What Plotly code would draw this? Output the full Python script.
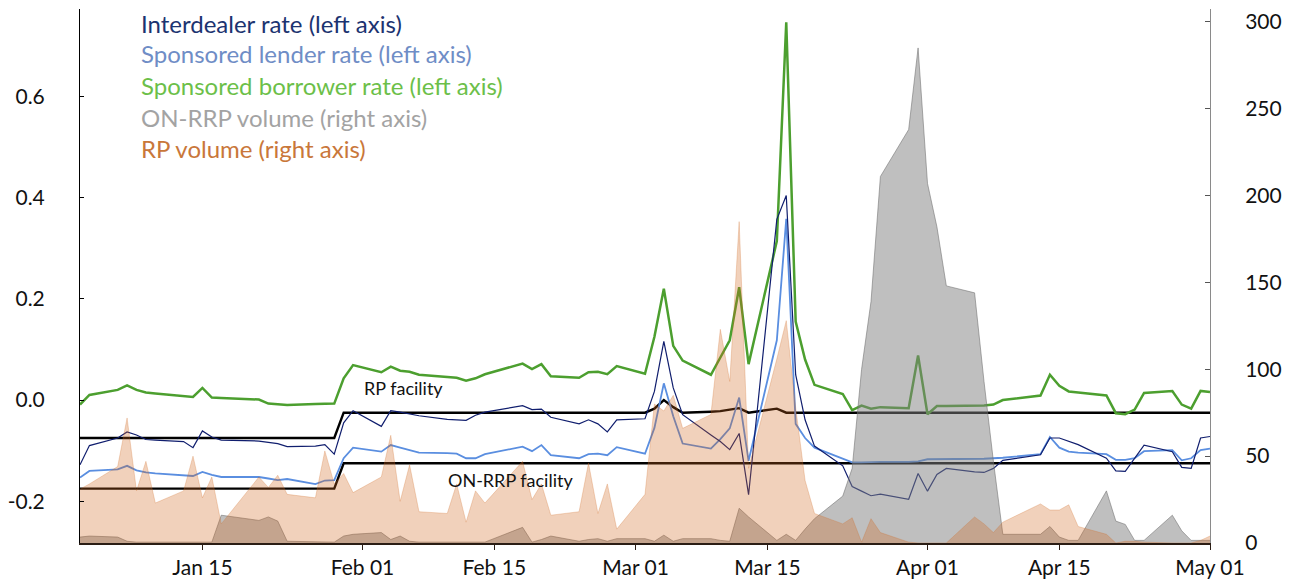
import plotly.graph_objects as go

dates = [
    "2020-01-02","2020-01-03","2020-01-06","2020-01-07","2020-01-08","2020-01-09","2020-01-10",
    "2020-01-13","2020-01-14","2020-01-15","2020-01-16","2020-01-17","2020-01-21","2020-01-22",
    "2020-01-23","2020-01-24","2020-01-27","2020-01-28","2020-01-29","2020-01-30","2020-01-31",
    "2020-02-03","2020-02-04","2020-02-05","2020-02-06","2020-02-07","2020-02-10","2020-02-11",
    "2020-02-12","2020-02-13","2020-02-14","2020-02-18","2020-02-19","2020-02-20","2020-02-21",
    "2020-02-24","2020-02-25","2020-02-26","2020-02-27","2020-02-28",
    "2020-03-02","2020-03-03","2020-03-04","2020-03-05","2020-03-06","2020-03-09","2020-03-10",
    "2020-03-11","2020-03-12","2020-03-13","2020-03-16","2020-03-17","2020-03-18","2020-03-19",
    "2020-03-20","2020-03-23","2020-03-24","2020-03-25","2020-03-26","2020-03-27","2020-03-30",
    "2020-03-31",
    "2020-04-01","2020-04-02","2020-04-03","2020-04-06","2020-04-07","2020-04-08","2020-04-09",
    "2020-04-13","2020-04-14","2020-04-15","2020-04-16","2020-04-17","2020-04-20","2020-04-21",
    "2020-04-22","2020-04-23","2020-04-24","2020-04-27","2020-04-28","2020-04-29","2020-04-30",
    "2020-05-01",
]

interdealer = [
    -0.128,-0.090,-0.075,-0.063,-0.069,-0.078,-0.079,-0.082,-0.094,-0.061,-0.073,-0.079,-0.081,-0.083,
    -0.086,-0.092,-0.091,-0.088,-0.107,-0.045,-0.021,
    -0.052,-0.021,-0.024,-0.027,-0.031,-0.038,-0.039,-0.040,-0.030,-0.024,-0.011,-0.019,-0.018,-0.034,
    -0.047,-0.039,-0.047,-0.063,-0.039,
    -0.037,0.017,0.116,0.024,-0.029,-0.069,-0.082,-0.098,-0.066,-0.187,0.357,0.404,0.050,-0.039,
    -0.091,-0.130,-0.171,-0.180,-0.189,-0.186,-0.196,-0.145,
    -0.180,-0.147,-0.135,-0.142,-0.143,-0.135,-0.119,-0.108,-0.075,-0.075,-0.082,-0.088,-0.115,-0.140,
    -0.141,-0.114,-0.089,-0.102,-0.133,-0.135,-0.075,
    -0.072,
]

sponsored_lender = [
    -0.153,-0.140,-0.137,-0.130,-0.139,-0.143,-0.145,-0.148,-0.150,-0.142,-0.148,-0.152,-0.152,-0.155,
    -0.158,-0.156,-0.166,-0.159,-0.158,-0.115,-0.094,
    -0.102,-0.089,-0.094,-0.099,-0.104,-0.105,-0.106,-0.115,-0.115,-0.107,-0.092,-0.101,-0.089,-0.109,
    -0.115,-0.107,-0.106,-0.109,-0.093,
    -0.106,-0.055,0.033,-0.032,-0.086,-0.096,-0.077,-0.056,0.005,-0.120,0.118,0.358,-0.047,-0.075,
    -0.094,-0.115,-0.123,-0.123,-0.122,-0.122,-0.122,-0.121,
    -0.117,-0.117,-0.117,-0.116,-0.116,-0.115,-0.114,-0.107,-0.073,-0.094,-0.102,-0.104,-0.107,-0.118,
    -0.118,-0.115,-0.101,-0.099,-0.119,-0.115,-0.099,
    -0.096,
]

sponsored_borrower = [
    -0.009,0.010,0.020,0.029,0.020,0.015,0.013,0.008,0.006,0.024,0.005,0.004,0.001,-0.007,
    -0.009,-0.010,-0.008,-0.008,-0.007,0.043,0.069,
    0.055,0.066,0.058,0.056,0.050,0.046,0.044,0.038,0.043,0.051,0.072,0.061,0.071,0.047,
    0.044,0.055,0.056,0.051,0.067,
    0.052,0.125,0.220,0.107,0.078,0.050,0.084,0.118,0.223,0.071,0.314,0.746,0.155,0.080,
    0.030,0.012,-0.020,-0.011,-0.017,-0.014,-0.016,0.088,
    -0.028,-0.012,-0.012,-0.012,-0.011,-0.009,0.000,0.009,0.050,0.028,0.017,0.015,0.009,-0.026,
    -0.028,-0.019,0.014,0.018,-0.009,-0.017,0.018,
    0.016,
]

rp_facility = [
    -0.075,-0.075,-0.075,-0.075,-0.075,-0.075,-0.075,-0.075,-0.075,-0.075,-0.075,-0.075,-0.075,-0.075,
    -0.075,-0.075,-0.075,-0.075,-0.075,-0.025,-0.025,
    -0.025,-0.025,-0.025,-0.025,-0.025,-0.025,-0.025,-0.025,-0.025,-0.025,-0.025,-0.025,-0.025,-0.025,
    -0.025,-0.025,-0.025,-0.025,-0.025,
    -0.025,-0.017,0.000,-0.014,-0.025,-0.023,-0.022,-0.019,-0.016,-0.025,-0.017,-0.025,-0.025,-0.025,
    -0.025,-0.025,-0.025,-0.025,-0.025,-0.025,-0.025,-0.025,
    -0.025,-0.025,-0.025,-0.025,-0.025,-0.025,-0.025,-0.025,-0.025,-0.025,-0.025,-0.025,-0.025,-0.025,
    -0.025,-0.025,-0.025,-0.025,-0.025,-0.025,-0.025,
    -0.025,
]

onrrp_facility = [
    -0.175,-0.175,-0.175,-0.175,-0.175,-0.175,-0.175,-0.175,-0.175,-0.175,-0.175,-0.175,-0.175,-0.175,
    -0.175,-0.175,-0.175,-0.175,-0.175,-0.125,-0.125,
    -0.125,-0.125,-0.125,-0.125,-0.125,-0.125,-0.125,-0.125,-0.125,-0.125,-0.125,-0.125,-0.125,-0.125,
    -0.125,-0.125,-0.125,-0.125,-0.125,
    -0.125,-0.125,-0.125,-0.125,-0.125,-0.125,-0.125,-0.125,-0.125,-0.125,-0.125,-0.125,-0.125,-0.125,
    -0.125,-0.125,-0.125,-0.125,-0.125,-0.125,-0.125,-0.125,
    -0.125,-0.125,-0.125,-0.125,-0.125,-0.125,-0.125,-0.125,-0.125,-0.125,-0.125,-0.125,-0.125,-0.125,
    -0.125,-0.125,-0.125,-0.125,-0.125,-0.125,-0.125,
    -0.125,
]

onrrp_volume = [
    3.4,4,3.4,1,0.5,0.5,0.5,0.5,0.5,0.5,0.5,16,13,15,
    12.6,1,0.5,0.5,0.5,4,5,
    6,2,4,1,0.5,0.5,0.5,0.5,0.5,0.5,9,0.5,2,4,
    1,2,2.5,1,2.5,
    2.5,1,4.5,1,2.5,2.5,1.5,1,20,15,1.5,5,1.5,8,
    14,27,43,100,139,211,238,285,
    207,182,148,144,93,47,5,5,9.5,3.4,1.5,1.5,30,12.6,
    10.7,1.5,1.5,16,7,1.5,1.5,
    1.5,
]

rp_volume = [
    31,34,44,72,30,47,23,30,50,26,38,11,38,32,
    39,28,26,53,34,40,29,
    38,62,24,45,18,17,34,12,30,23,47,25,34,16,
    18,46,17,34,8,
    28,80,76,85,66,74,123,93,185,43,106,128,78,36,
    17,11,14.5,0.5,14,6,0.5,0,
    0,0,0,15,11,6,12,22.5,19,19,22,9.5,5,0,
    1,1,0.5,0,0,0,1.5,
    4,
]

x_tickvals = ["2020-01-15","2020-02-01","2020-02-15","2020-03-01","2020-03-15","2020-04-01","2020-04-15","2020-05-01"]
x_ticktext = ["Jan 15","Feb 01","Feb 15","Mar 01","Mar 15","Apr 01","Apr 15","May 01"]
left_tickvals = [-0.2, 0.0, 0.2, 0.4, 0.6]
left_ticktext = ["-0.2", "0.0", "0.2", "0.4", "0.6"]
right_tickvals = [0, 50, 100, 150, 200, 250, 300]

legend_items = [
    ("Interdealer rate (left axis)", "#1c3370"),
    ("Sponsored lender rate (left axis)", "#6f8dc6"),
    ("Sponsored borrower rate (left axis)", "#6cbf49"),
    ("ON-RRP volume (right axis)", "#a3a3a3"),
    ("RP volume (right axis)", "#c9773a"),
]

FONT = "Lato, 'Open Sans', sans-serif"
OFF = 8  # page body margin offset in the browser
W, H = 1292 - OFF, 579 - OFF
ML, MR, MT, MB = 79 - OFF, 82, 0, 33
PW, PH = W - ML - MR, H - MT - MB


def px(xp):
    return (xp - OFF - ML) / PW


def py(yp):
    return (H - MB - (yp - OFF)) / PH


fig = go.Figure()

# rate lines (left axis)
fig.add_trace(go.Scatter(x=dates, y=rp_facility, mode="lines", line=dict(color="#000000", width=2.4),
                         yaxis="y", showlegend=False, hoverinfo="skip"))
fig.add_trace(go.Scatter(x=dates, y=onrrp_facility, mode="lines", line=dict(color="#000000", width=2.4),
                         yaxis="y", showlegend=False, hoverinfo="skip"))
fig.add_trace(go.Scatter(x=dates, y=sponsored_borrower, mode="lines", line=dict(color="#4c9f2f", width=2.5),
                         yaxis="y", showlegend=False))
fig.add_trace(go.Scatter(x=dates, y=sponsored_lender, mode="lines", line=dict(color="#5a8ee0", width=1.8),
                         yaxis="y", showlegend=False))
fig.add_trace(go.Scatter(x=dates, y=interdealer, mode="lines", line=dict(color="#101e6e", width=1.2),
                         yaxis="y", showlegend=False))

# volume areas (right axis), drawn on top
fig.add_trace(go.Scatter(x=dates, y=onrrp_volume, mode="lines", fill="tozeroy",
                         fillcolor="rgba(128,128,128,0.5)", line=dict(color="rgba(110,110,110,0.55)", width=1),
                         yaxis="y2", showlegend=False))
fig.add_trace(go.Scatter(x=dates, y=rp_volume, mode="lines", fill="tozeroy",
                         fillcolor="rgba(207,103,31,0.3)", line=dict(color="rgba(207,103,31,0.25)", width=1),
                         yaxis="y2", showlegend=False))

annotations = []
leg_y = [23, 53, 85, 117, 149]
for (txt, col), yy in zip(legend_items, leg_y):
    annotations.append(dict(text=txt, xref="paper", yref="paper", x=px(138), y=py(yy),
                            xanchor="left", yanchor="middle", showarrow=False,
                            font=dict(family=FONT, size=24, color=col)))
annotations.append(dict(text="RP facility", x="2020-02-05 08:00", y=0.024, xref="x", yref="y",
                        showarrow=False, font=dict(family=FONT, size=18, color="#111111")))
annotations.append(dict(text="ON-RRP facility", x="2020-02-16 18:00", y=-0.158, xref="x", yref="y",
                        showarrow=False, font=dict(family=FONT, size=18, color="#111111")))

fig.update_layout(
    width=W, height=H,
    margin=dict(l=ML, r=MR, t=MT, b=MB),
    paper_bgcolor="white", plot_bgcolor="white",
    font=dict(family=FONT, size=21, color="#111111"),
    showlegend=False,
    annotations=annotations,
    xaxis=dict(type="date", range=["2020-01-02", "2020-05-01"], tickvals=x_tickvals, ticktext=x_ticktext,
               showgrid=False, zeroline=False, showline=True, linecolor="#2b1d14", linewidth=2,
               ticks="outside", ticklen=5, tickcolor="#2b1d14", tickfont=dict(family=FONT, size=21),
               ticklabeloverflow="allow"),
    yaxis=dict(range=[-0.2824, 0.7725], tickvals=left_tickvals, ticktext=left_ticktext,
               showgrid=False, zeroline=False, showline=True, linecolor="#000000", linewidth=1,
               ticks="inside", ticklen=4, tickcolor="#000000", ticklabelstandoff=30,
               tickfont=dict(family=FONT, size=21), ticklabeloverflow="allow"),
    yaxis2=dict(range=[0, 307.4], overlaying="y", side="right", tickvals=right_tickvals,
                showgrid=False, zeroline=False, showline=True, linecolor="#8a8a8a", linewidth=1,
                ticks="inside", ticklen=5, tickcolor="#555555", ticklabelstandoff=30,
                tickfont=dict(family=FONT, size=21), ticklabeloverflow="allow"),
)

fig.write_html("out.html")
